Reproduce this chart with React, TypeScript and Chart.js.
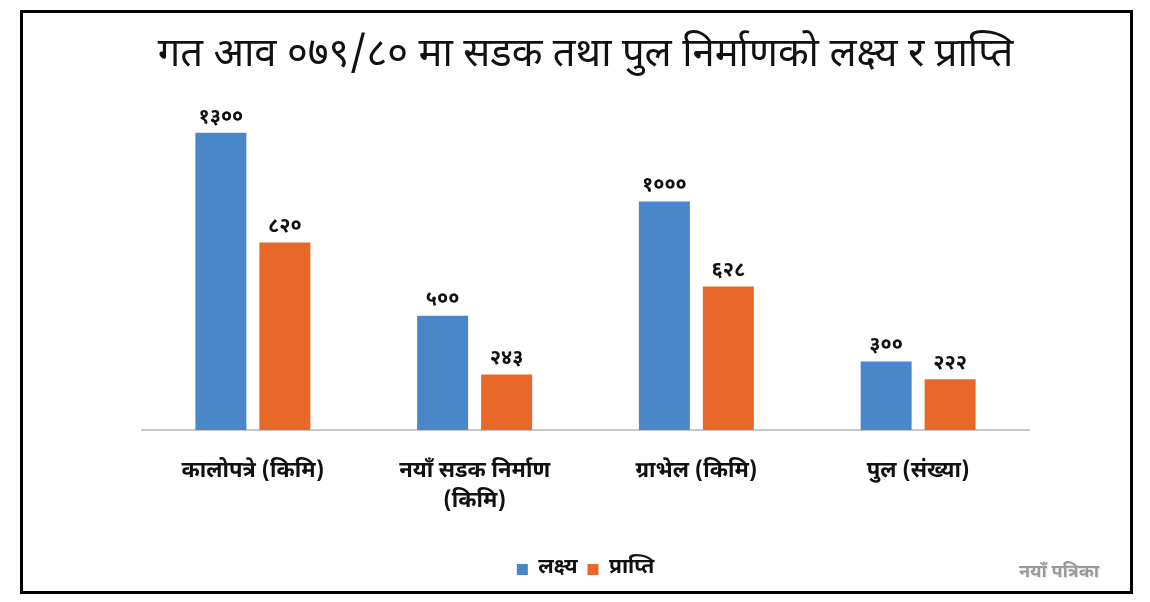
import React, { useEffect, useRef } from "react";
import { Chart, registerables } from "chart.js";

Chart.register(...registerables);

const categories: (string | string[])[] = [
  "कालोपत्रे (किमि)",
  ["नयाँ सडक निर्माण", "(किमि)"],
  "ग्राभेल (किमि)",
  "पुल (संख्या)",
];
const targetValues = [1300, 500, 1000, 300];
const achievedValues = [820, 243, 628, 222];
const seriesNames = ["लक्ष्य", "प्राप्ति"];
const titleText = "गत आव ०७९/८० मा सडक तथा पुल निर्माणको लक्ष्य र प्राप्ति";
const watermarkText = "नयाँ पत्रिका";
const yMax = 1400;

const FONT = '"Noto Sans Devanagari", "Noto Sans", "DejaVu Sans", sans-serif';
const BLUE = "#4a87c9";
const ORANGE = "#e8682a";

const toDevanagari = (n: number) =>
  String(n).replace(/[0-9]/g, (d) => "०१२३४५६७८९"[+d]);

const dataLabelPlugin = {
  id: "dataLabels",
  afterDatasetsDraw(chart: any) {
    const ctx = chart.ctx;
    ctx.save();
    ctx.font = `bold 20px ${FONT}`;
    ctx.fillStyle = "#111";
    ctx.textAlign = "center";
    ctx.textBaseline = "middle";
    chart.data.datasets.forEach((ds: any, i: number) => {
      const meta = chart.getDatasetMeta(i);
      meta.data.forEach((el: any, j: number) => {
        ctx.fillText(toDevanagari(ds.data[j]), el.x, el.y - 14);
      });
    });
    ctx.restore();
  },
};

export default function App() {
  const ref = useRef<HTMLCanvasElement | null>(null);

  useEffect(() => {
    if (!ref.current) return;
    const chart = new Chart(ref.current, {
      type: "bar",
      data: {
        labels: categories,
        datasets: [
          { label: seriesNames[0], data: targetValues, backgroundColor: BLUE },
          { label: seriesNames[1], data: achievedValues, backgroundColor: ORANGE },
        ],
      },
      options: {
        animation: false,
        responsive: false,
        devicePixelRatio: 1,
        layout: { padding: { left: 142, right: 121, top: 0, bottom: 12 } },
        datasets: {
          bar: { categoryPercentage: 0.577, barPercentage: 0.797 },
        },
        scales: {
          x: {
            grid: { display: false, drawTicks: false },
            border: { display: true, color: "#c8c8c8", width: 2 },
            ticks: {
              padding: 27,
              color: "#111",
              font: { family: FONT, size: 22, weight: "bold", lineHeight: 1.4 },
              maxRotation: 0,
              autoSkip: false,
            },
            afterFit: (scale: any) => {
              scale.height = 119;
            },
          },
          y: {
            display: false,
            min: 0,
            max: yMax,
          },
        },
        plugins: {
          title: {
            display: true,
            text: titleText,
            color: "#111",
            font: { family: FONT, size: 40, weight: "normal", lineHeight: 1.2 },
            padding: { top: 35, bottom: 27 },
          },
          legend: {
            position: "bottom",
            labels: {
              boxWidth: 11,
              boxHeight: 11,
              padding: 10,
              color: "#111",
              font: { family: FONT, size: 21, weight: "bold" },
            },
          },
          tooltip: { enabled: false },
        },
      },
      plugins: [dataLabelPlugin],
    } as any);
    return () => chart.destroy();
  }, []);

  return (
    <div style={{ position: "fixed", left: 0, top: 0, width: 1150, height: 602, background: "#fff" }}>
      <div
        style={{
          position: "absolute",
          left: 20,
          top: 10,
          width: 1113,
          height: 584,
          boxSizing: "border-box",
          border: "3px solid #000",
        }}
      />
      <canvas
        ref={ref}
        width={1150}
        height={602}
        style={{ position: "absolute", left: 0, top: 0, width: 1150, height: 602 }}
      />
      <div
        style={{
          position: "absolute",
          left: 1019,
          top: 561,
          fontFamily: FONT,
          fontWeight: "bold",
          fontSize: 18,
          color: "#9a9a9a",
          textShadow: "0 0 2px #fff, 1px 1px 0 #ddd",
          whiteSpace: "nowrap",
        }}
      >
        {watermarkText}
      </div>
    </div>
  );
}
